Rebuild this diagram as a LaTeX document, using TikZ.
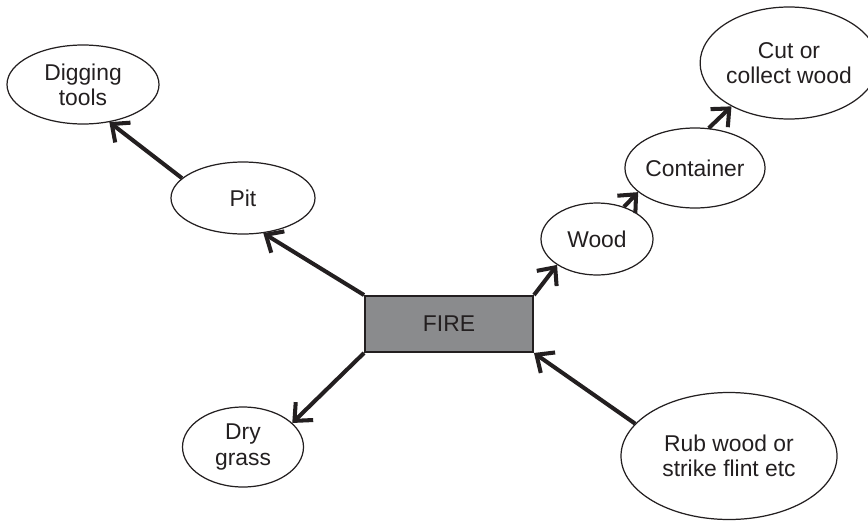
\documentclass[tikz,border=0pt]{standalone}
\usepackage{fontspec}
\setmainfont{Liberation Sans}
\usepackage{tikz}
\usetikzlibrary{shapes.geometric,arrows.meta}
\definecolor{firegray}{RGB}{138,139,141}
\definecolor{inkgray}{RGB}{35,31,32}

\begin{document}
\begin{tikzpicture}[inkgray,
  every node/.style={font=\fontsize{13}{14.4}\selectfont,text=inkgray},
  bubble/.style={ellipse,draw,line width=0.7pt,inner sep=0pt,align=center},
  link/.style={-{Straight Barb[length=2.8mm,width=5mm]},line width=2.3pt}]
\useasboundingbox (0,0) rectangle (17.36,10.44);
% centre and its branches
\node[draw,line width=1.1pt,fill=firegray,minimum width=3.36cm,minimum height=1.12cm] (fire) at (8.98,3.96) {FIRE};
\node[bubble,minimum width=2.88cm,minimum height=1.44cm] (pit) at (4.86,6.48) {Pit};
\node[bubble,minimum width=3.04cm,minimum height=1.58cm] (dig) at (1.66,8.75) {Digging\\tools};
\node[bubble,minimum width=2.42cm,minimum height=1.6cm] (dry) at (4.86,1.50) {Dry\\grass};
\node[bubble,minimum width=2.24cm,minimum height=1.44cm] (wood) at (11.94,5.66) {Wood};
\node[bubble,minimum width=2.74cm,minimum height=1.6cm] (cont) at (13.9,7.08) {Container};
\node[bubble,minimum width=3.24cm,minimum height=2.24cm] (cut) at (15.78,9.18) {Cut or\\collect wood};
\node[bubble,minimum width=4.32cm,minimum height=2.54cm] (rub) at (14.58,1.32) {Rub wood or\\strike flint etc};
% arrows
\draw[link] (fire.north west) -- (pit.-60);
\draw[link] (pit.162) -- (dig.-55);
\draw[link] (fire.south west) -- (dry.26);
\draw[link] (fire.north east) -- (wood.-147);
\draw[link] (wood.50) -- (cont.203);
\draw[link] (cont.71) -- (cut.217);
\draw[link] (rub.161) -- (fire.south east);
\end{tikzpicture}
\end{document}
